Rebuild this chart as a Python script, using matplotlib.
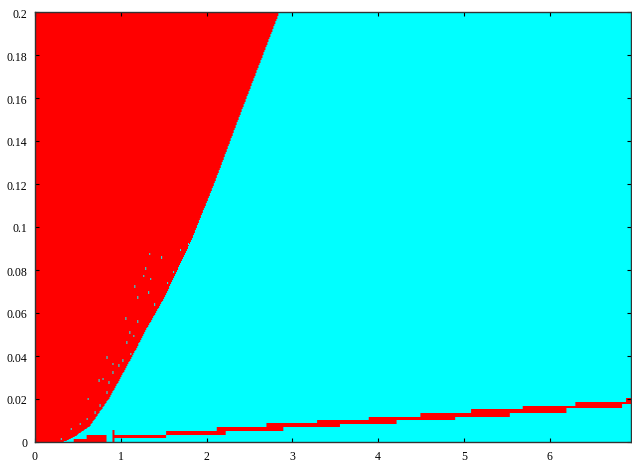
import numpy as np
import matplotlib
matplotlib.use("Agg")
import matplotlib.pyplot as plt

# boundary of the big red region (y -> x)
bnd_y = [0.0, 0.003, 0.0074, 0.02, 0.0293, 0.0433, 0.0526, 0.0665, 0.0800, 0.0944, 0.1223, 0.1500, 0.1750, 0.2]
bnd_x = [0.33, 0.48, 0.64, 0.86, 0.99, 1.18, 1.30, 1.50, 1.66, 1.83, 2.11, 2.37, 2.61, 2.85]

# stair-step band: upper and lower edges
top_x = [0.90, 1.53, 2.12, 2.70, 3.29, 3.89, 4.49, 5.09, 5.69, 6.30, 6.89]
top_y = [0.0033, 0.0053, 0.0070, 0.0087, 0.0102, 0.0118, 0.0135, 0.0153, 0.0167, 0.0185, 0.0203]
bot_x = [0.90, 1.53, 2.22, 2.90, 3.56, 4.22, 4.90, 5.54, 6.20, 6.84]
bot_y = [0.0019, 0.0034, 0.0053, 0.0068, 0.0084, 0.0101, 0.0118, 0.0137, 0.0156, 0.0177]

# small red bars near the origin (x0, x1, y1)
low_bars = [(0.45, 0.60, 0.0014), (0.60, 0.83, 0.0033), (0.90, 0.93, 0.0056)]

# cyan specks inside the red region
speck_x = [1.333, 1.477, 1.295, 1.263, 1.349, 1.166, 1.321, 1.194, 1.70, 1.79, 1.061, 1.194,
           1.108, 1.155, 1.069, 1.206, 0.844, 1.116, 1.03, 0.914, 0.984, 0.797, 0.914, 0.867,
           0.75, 0.428, 0.525, 0.603, 0.70, 0.758, 0.311, 0.622, 0.836, 1.40, 1.55, 1.62]
speck_y = [0.0874, 0.0859, 0.0808, 0.0773, 0.0758, 0.0724, 0.0696, 0.0673, 0.0894, 0.0921, 0.0575, 0.056,
           0.051, 0.0494, 0.0464, 0.0456, 0.0394, 0.0409, 0.0378, 0.0363, 0.0355, 0.0293, 0.0324, 0.0278,
           0.0285, 0.006, 0.0084, 0.0107, 0.0138, 0.0169, 0.0014, 0.02, 0.0231, 0.0640, 0.0740, 0.0790]

xmax, ymax = 6.95, 0.2
nx, ny = 600, 430
xs = (np.arange(nx) + 0.5) / nx * xmax
ys = (np.arange(ny) + 0.5) / ny * ymax
X, Y = np.meshgrid(xs, ys)

red = X < np.interp(Y, bnd_y, bnd_x)
for sx, sy in zip(speck_x, speck_y):
    red &= ~((np.abs(X - sx) < 0.006) & (np.abs(Y - sy) < 0.0006))

ti = np.searchsorted(top_x, X, side="right") - 1
bi = np.searchsorted(bot_x, X, side="right") - 1
ok = (ti >= 0) & (bi >= 0)
ytop = np.array(top_y)[np.clip(ti, 0, None)]
ybot = np.array(bot_y)[np.clip(bi, 0, None)]
red |= ok & (Y >= ybot) & (Y <= ytop)
for x0, x1, y1 in low_bars:
    red |= (X >= x0) & (X <= x1) & (Y <= y1)

img = np.zeros((ny, nx, 3))
img[red] = [1, 0, 0]
img[~red] = [0, 1, 1]

plt.rcParams['font.family'] = ['Liberation Serif', 'DejaVu Serif']
fig = plt.figure(figsize=(6.32, 4.64), dpi=100)
ax = fig.add_axes([35 / 632, 1 - 443 / 464, 596 / 632, 430 / 464])
ax.imshow(img, origin="lower", extent=[0, xmax, 0, ymax], aspect="auto", interpolation="bilinear")
ax.set_xlim(0, xmax)
ax.set_ylim(0, ymax)
ax.set_xticks(range(0, 7))
ax.set_yticks(np.arange(0, 0.201, 0.02))
ax.set_yticklabels(["0", "0.02", "0.04", "0.06", "0.08", "0.1", "0.12", "0.14", "0.16", "0.18", "0.2"])
ax.tick_params(direction="in", top=True, right=True, length=3, width=0.8, labelsize=8.5)
ax.tick_params(axis="x", pad=6)
ax.tick_params(axis="y", pad=5.5)
for s in ax.spines.values():
    s.set_color("#333333")
    s.set_linewidth(1.0)

fig.savefig("out.png", dpi=100)
